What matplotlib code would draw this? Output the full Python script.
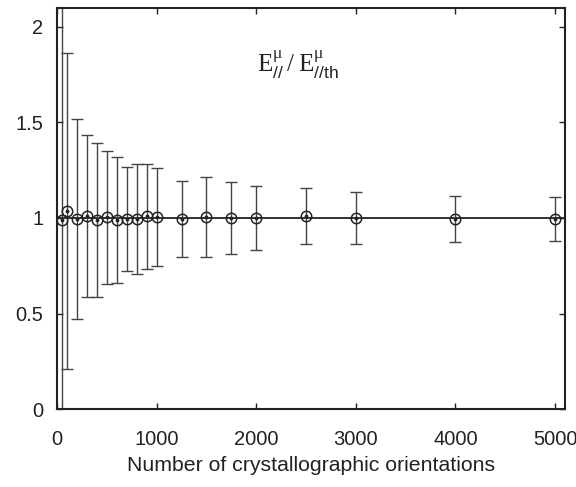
import numpy as np
import matplotlib as mpl
import matplotlib.pyplot as plt

mpl.rcParams["font.family"] = ["Liberation Sans", "DejaVu Sans"]
mpl.rcParams["mathtext.fontset"] = "custom"
mpl.rcParams["mathtext.rm"] = "Liberation Serif"
mpl.rcParams["mathtext.sf"] = "Liberation Sans"

# 取向数目与归一化模量（均值及误差）
n_orient = [50, 100, 200, 300, 400, 500, 600, 700, 800, 900, 1000,
            1250, 1500, 1750, 2000, 2500, 3000, 4000, 5000]
ratio = [0.99, 1.035, 0.995, 1.01, 0.99, 1.005, 0.99, 0.995, 0.995, 1.01, 1.005,
         0.995, 1.005, 1.0, 1.0, 1.01, 1.0, 0.995, 0.995]
err = [1.20, 0.827, 0.522, 0.422, 0.405, 0.348, 0.33, 0.27, 0.29, 0.275, 0.254,
       0.20, 0.21, 0.188, 0.169, 0.145, 0.137, 0.12, 0.116]

xticks = [0, 1000, 2000, 3000, 4000, 5000]
yticks = [0, 0.5, 1, 1.5, 2]
ytick_labels = ["0", "0.5", "1", "1.5", "2"]

fig = plt.figure(figsize=(5.76, 4.87), dpi=100)
ax = fig.add_axes([0.099, 0.160, 0.882, 0.824])

# 参考线 y = 1
ax.axhline(1.0, color="#222222", lw=1.3, zorder=1)

ax.errorbar(n_orient, ratio, yerr=err, fmt="none", ecolor="#444444",
            elinewidth=1.0, capsize=4, capthick=1.0, zorder=2)
ax.plot(n_orient, ratio, "o", ms=7.5, mfc="none", mec="#222222", mew=1.1, zorder=3)
ax.plot(n_orient, ratio, ".", ms=3.5, color="#222222", zorder=4)

ax.set_xlim(0, 5100)
ax.set_ylim(0, 2.1)
ax.set_xticks(xticks)
ax.set_yticks(yticks)
ax.set_yticklabels(ytick_labels)
ax.tick_params(direction="in", length=4, width=1, labelsize=14.5,
               top=True, right=True, colors="#222222")
ax.tick_params(axis="x", pad=15)
ax.tick_params(axis="y", pad=10)
for s in ax.spines.values():
    s.set_linewidth(1.5)
    s.set_color("#222222")

ax.set_xlabel("Number of crystallographic orientations", fontsize=15.3,
              color="#222222", labelpad=5)

ax.text(2420, 1.80,
        r"$\mathrm{E}^{\mathrm{\mu}}_{\mathsf{//}}\,/\,\mathrm{E}^{\mathrm{\mu}}_{\mathsf{//th}}$",
        fontsize=18, ha="center", va="center", color="#222222")

fig.savefig("out.png", dpi=100)
